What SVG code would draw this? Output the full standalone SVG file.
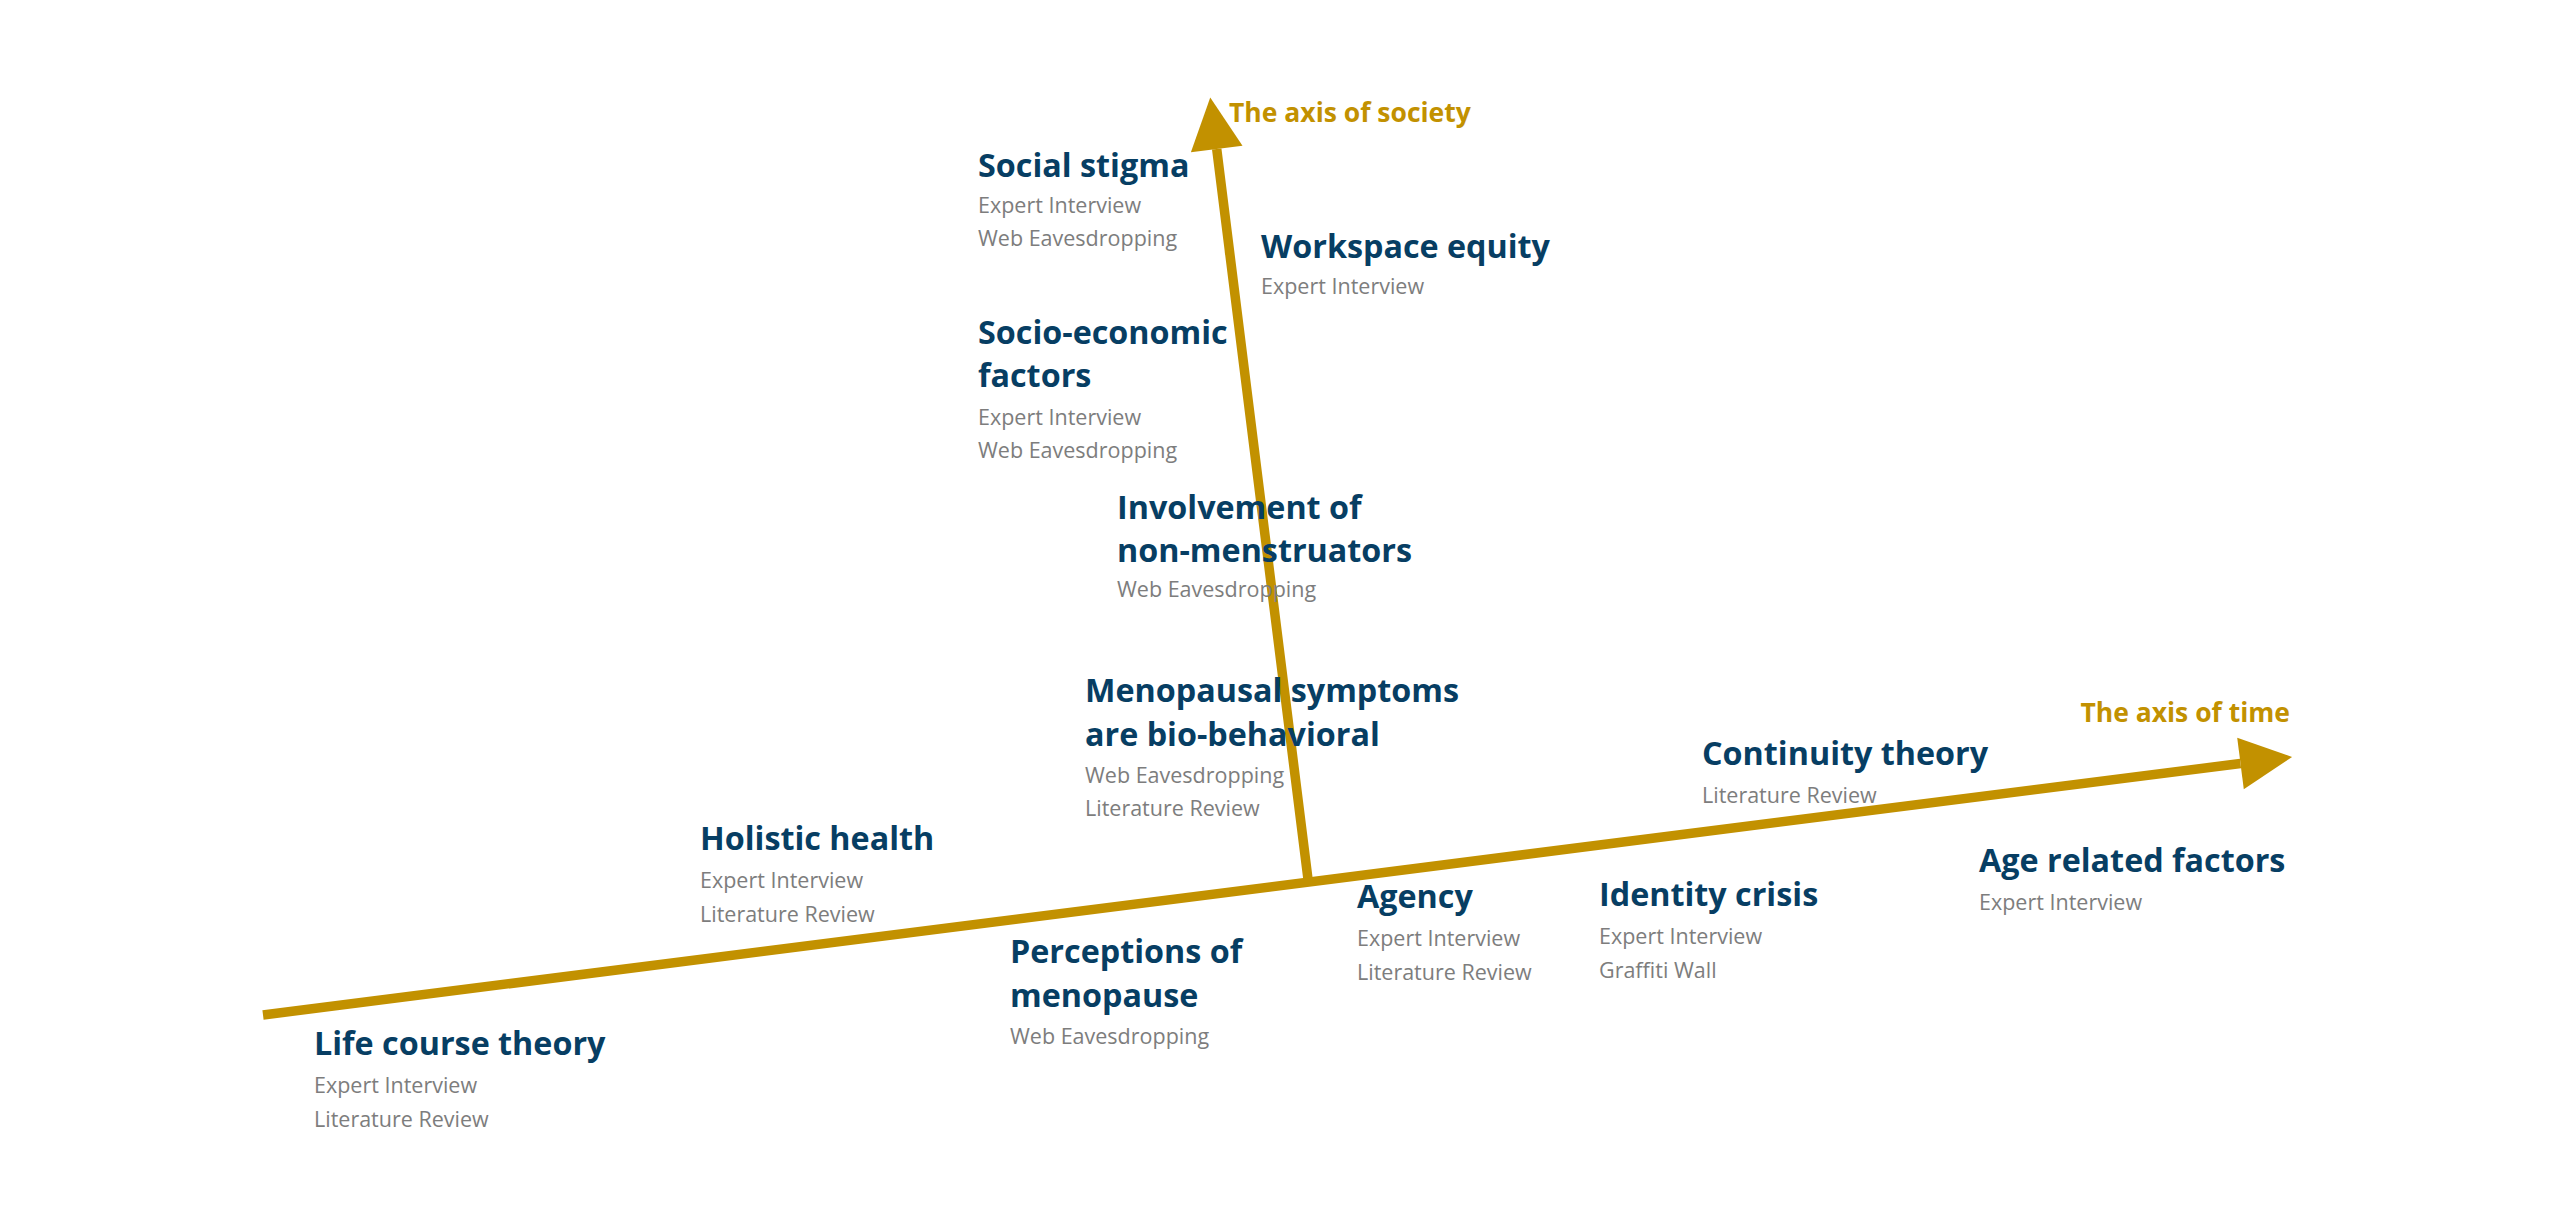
<svg xmlns="http://www.w3.org/2000/svg" width="2560" height="1229" viewBox="0 0 2560 1229">
<style>
.t{font-family:"Open Sans","Noto Sans",sans-serif;font-weight:700;font-size:32.3px;fill:#073E63}
.s{font-family:"Open Sans","Noto Sans",sans-serif;font-weight:400;font-size:21.5px;fill:#7D7D7D}
.ax{font-family:"Open Sans","Noto Sans",sans-serif;font-weight:700;font-size:26.5px;fill:#C29100}
.axis{stroke:#C29100;stroke-width:9.5;fill:none}
</style>
<defs>
<marker id="arrow" markerUnits="userSpaceOnUse" markerWidth="54" markerHeight="54" refX="0" refY="26" orient="auto" overflow="visible">
<path d="M0,0 L52,26 L0,52 Z" fill="#C29100"/>
</marker>
</defs>
<rect width="2560" height="1229" fill="#FFFFFF"/>
<g id="connectors">
<line class="axis" x1="263" y1="1015" x2="2240.5" y2="763.5" marker-end="url(#arrow)"/>
<line class="axis" x1="1308" y1="879" x2="1216.7" y2="149" marker-end="url(#arrow)"/>
</g>
<g id="axis-society-label"><text class="ax" x="1229" y="122">The axis of society</text></g>
<g id="axis-time-label"><text class="ax" x="2290" y="722" text-anchor="end">The axis of time</text></g>
<g id="social-stigma">
<text class="t" x="978" y="177">Social stigma</text>
<text class="s" x="978" y="213">Expert Interview</text>
<text class="s" x="978" y="246">Web Eavesdropping</text>
</g>
<g id="workspace-equity">
<text class="t" x="1261" y="258">Workspace equity</text>
<text class="s" x="1261" y="294">Expert Interview</text>
</g>
<g id="socio-economic">
<text class="t" x="978" y="344">Socio-economic</text>
<text class="t" x="978" y="387">factors</text>
<text class="s" x="978" y="425">Expert Interview</text>
<text class="s" x="978" y="458">Web Eavesdropping</text>
</g>
<g id="involvement">
<text class="t" x="1117" y="519">Involvement of</text>
<text class="t" x="1117" y="562">non-menstruators</text>
<text class="s" x="1117" y="597">Web Eavesdropping</text>
</g>
<g id="menopausal-symptoms">
<text class="t" x="1085" y="702">Menopausal symptoms</text>
<text class="t" x="1085" y="746">are bio-behavioral</text>
<text class="s" x="1085" y="783">Web Eavesdropping</text>
<text class="s" x="1085" y="816">Literature Review</text>
</g>
<g id="holistic-health">
<text class="t" x="700" y="850">Holistic health</text>
<text class="s" x="700" y="888">Expert Interview</text>
<text class="s" x="700" y="922">Literature Review</text>
</g>
<g id="life-course-theory">
<text class="t" x="314" y="1055">Life course theory</text>
<text class="s" x="314" y="1093">Expert Interview</text>
<text class="s" x="314" y="1127">Literature Review</text>
</g>
<g id="perceptions">
<text class="t" x="1010" y="963">Perceptions of</text>
<text class="t" x="1010" y="1007">menopause</text>
<text class="s" x="1010" y="1044">Web Eavesdropping</text>
</g>
<g id="agency">
<text class="t" x="1357" y="908">Agency</text>
<text class="s" x="1357" y="946">Expert Interview</text>
<text class="s" x="1357" y="980">Literature Review</text>
</g>
<g id="identity-crisis">
<text class="t" x="1599" y="906">Identity crisis</text>
<text class="s" x="1599" y="944">Expert Interview</text>
<text class="s" x="1599" y="978">Graffiti Wall</text>
</g>
<g id="continuity-theory">
<text class="t" x="1702" y="765">Continuity theory</text>
<text class="s" x="1702" y="803">Literature Review</text>
</g>
<g id="age-related">
<text class="t" x="1979" y="872">Age related factors</text>
<text class="s" x="1979" y="910">Expert Interview</text>
</g>
</svg>
